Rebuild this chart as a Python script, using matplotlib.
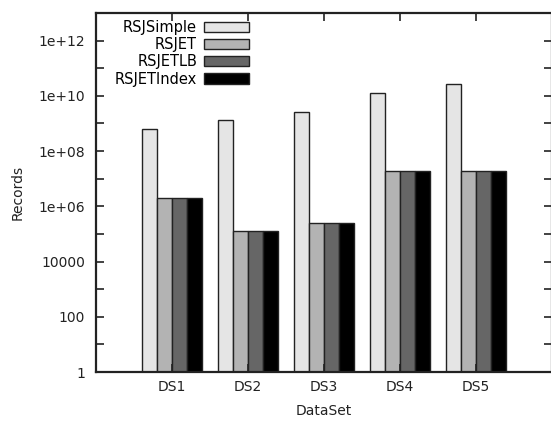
import numpy as np
import matplotlib
matplotlib.use('Agg')
import matplotlib.pyplot as plt
from matplotlib.ticker import FixedLocator, NullFormatter

# ── Data ─────────────────────────────────────────────────────
datasets = ['DS1', 'DS2', 'DS3', 'DS4', 'DS5']
series_names = ['RSJSimple', 'RSJET', 'RSJETLB', 'RSJETIndex']
rsj_simple = [6.3e8, 1.35e9, 2.6e9, 1.3e10, 2.7e10]
rsj_et = [2.0e6, 1.3e5, 2.5e5, 1.9e7, 1.9e7]
rsj_etlb = [2.0e6, 1.3e5, 2.5e5, 1.9e7, 1.9e7]
rsj_etindex = [2.0e6, 1.3e5, 2.5e5, 1.9e7, 1.9e7]
colors = ['#e5e5e5', '#b3b3b3', '#666666', '#000000']

major_ticks = [1, 1e2, 1e4, 1e6, 1e8, 1e10, 1e12]
major_labels = ['1', '100', '10000', '1e+06', '1e+08', '1e+10', '1e+12']
minor_ticks = [1e1, 1e3, 1e5, 1e7, 1e9, 1e11]

# ── Plot ─────────────────────────────────────────────────────
fig = plt.figure(figsize=(5.51, 4.23), dpi=100)
ax = fig.add_axes([96 / 551, 1 - 372 / 423, 456 / 551, 359 / 423])

x = np.arange(1, len(datasets) + 1)
width = 0.2
all_series = [rsj_simple, rsj_et, rsj_etlb, rsj_etindex]
for i, (name, vals) in enumerate(zip(series_names, all_series)):
    ax.bar(x - 0.3 + i * width, vals, width, label=name, color=colors[i],
           edgecolor='#222222', linewidth=1.0)

ax.set_yscale('log')
ax.set_ylim(1, 1e13)
ax.set_xlim(0, 6)
ax.yaxis.set_major_locator(FixedLocator(major_ticks))
ax.yaxis.set_minor_locator(FixedLocator(minor_ticks))
ax.yaxis.set_minor_formatter(NullFormatter())
ax.set_yticklabels(major_labels)
ax.set_xticks(x)
ax.set_xticklabels(datasets)

ax.tick_params(axis='both', which='both', direction='in', top=True, right=True,
               labelsize=10, width=1.2, colors='#222222', labelcolor='#222222')
ax.tick_params(axis='y', which='major', length=6, pad=8)
ax.tick_params(axis='x', which='major', length=6, pad=6)
ax.tick_params(axis='y', which='minor', length=6)
for s in ax.spines.values():
    s.set_linewidth(1.6)
    s.set_color('#222222')

ax.set_xlabel('DataSet', fontsize=10, color='#222222', labelpad=7)
ax.set_ylabel('Records', fontsize=10, color='#222222', labelpad=10)

ax.legend(loc='upper left', bbox_to_anchor=(0.019, 1.009), frameon=False,
          markerfirst=False, fontsize=10.5, handlelength=3.1, handleheight=0.7,
          labelspacing=0.15, handletextpad=0.45, borderaxespad=0.3)

plt.savefig('out.png', dpi=100)
